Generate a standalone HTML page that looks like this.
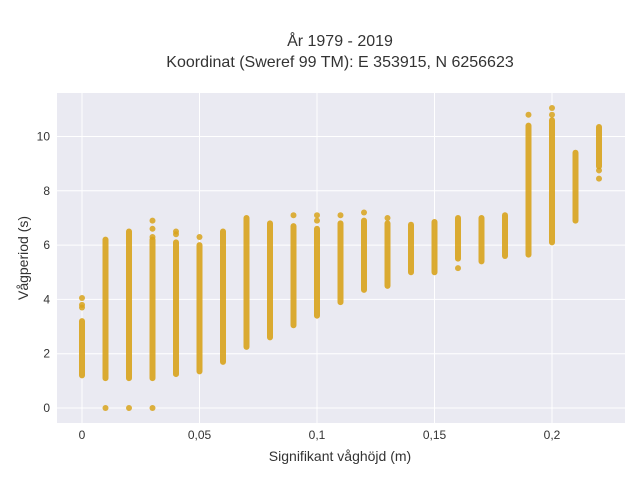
<!DOCTYPE html>
<html><head><meta charset="utf-8"><style>
body{margin:0;background:#fff;font-family:"Liberation Sans",sans-serif;}
svg text{font-family:"Liberation Sans",sans-serif;fill:#333;}
</style></head><body>
<svg id="chart" width="640" height="480" xmlns="http://www.w3.org/2000/svg">
<rect width="640" height="480" fill="#fff"/>
<rect x="57" y="93" width="568" height="330" fill="#eaeaf2"/>
<g id="grid"></g><g id="marks"></g><g id="axes"></g>
<text x="340" y="46" text-anchor="middle" font-size="16" fill="#222">År 1979 - 2019</text>
<text x="340" y="67" text-anchor="middle" font-size="16" fill="#222">Koordinat (Sweref 99 TM): E 353915, N 6256623</text>
<text x="340" y="461" text-anchor="middle" font-size="14" fill="#222">Signifikant våghöjd (m)</text>
<text transform="translate(28,258) rotate(-90)" text-anchor="middle" font-size="14" fill="#222">Vågperiod (s)</text>
</svg>
<script>
const xCats=[0,0.01,0.02,0.03,0.04,0.05,0.06,0.07,0.08,0.09,0.1,0.11,0.12,0.13,0.14,0.15,0.16,0.17,0.18,0.19,0.2,0.21,0.22];
const lows=[1.2,1.1,1.1,1.1,1.25,1.35,1.7,2.25,2.6,3.05,3.4,3.9,4.35,4.5,5.0,5.0,5.5,5.4,5.6,5.65,6.1,6.9,8.9];
const highs=[3.2,6.2,6.5,6.2,6.1,6.0,6.5,7.0,6.8,6.7,6.6,6.8,6.9,6.8,6.75,6.85,7.0,7.0,7.1,10.4,10.6,9.4,10.35];
const extraX=[0,0,0,0.01,0.02,0.03,0.03,0.03,0.03,0.04,0.04,0.05,0.09,0.1,0.1,0.11,0.12,0.13,0.16,0.19,0.2,0.2,0.22,0.22];
const extraY=[3.7,3.8,4.05,0,0,0,6.3,6.6,6.9,6.4,6.5,6.3,7.1,6.9,7.1,7.1,7.2,7.0,5.15,10.8,10.8,11.05,8.45,8.75];
const xTicks=[0,0.05,0.1,0.15,0.2];const xTickLabels=["0","0,05","0,1","0,15","0,2"];
const yTicks=[0,2,4,6,8,10];
const NS="http://www.w3.org/2000/svg";
const X=v=>82+v*2350, Y=v=>408-v*27.15;
function mk(t,a,p){const e=document.createElementNS(NS,t);for(const k in a)e.setAttribute(k,a[k]);p.appendChild(e);return e;}
const g=document.getElementById('grid'),m=document.getElementById('marks'),ax=document.getElementById('axes');
xTicks.forEach((t,i)=>{const l=mk('line',{x1:X(t),x2:X(t),y1:93,y2:423,stroke:'#fff','stroke-width':1},g);

const tx=mk('text',{x:X(t),y:439,'text-anchor':'middle','font-size':12},ax);tx.textContent=xTickLabels[i];
});
yTicks.forEach(t=>{const l=mk('line',{x1:57,x2:625,y1:Y(t),y2:Y(t),stroke:'#fff','stroke-width':1},g);

const tx=mk('text',{x:50,y:Y(t)+4,'text-anchor':'end','font-size':12},ax);tx.textContent=t;
});
xCats.forEach((c,i)=>{const l=mk('line',{x1:X(c),x2:X(c),y1:Y(lows[i]),y2:Y(highs[i]),stroke:'#d8a31c','stroke-opacity':0.9,'stroke-width':6,'stroke-linecap':'round'},m);
});
extraX.forEach((c,i)=>{const p=mk('circle',{cx:X(c),cy:Y(extraY[i]),r:3,fill:'#d8a31c','fill-opacity':0.85},m);
});
</script>
</body></html>
